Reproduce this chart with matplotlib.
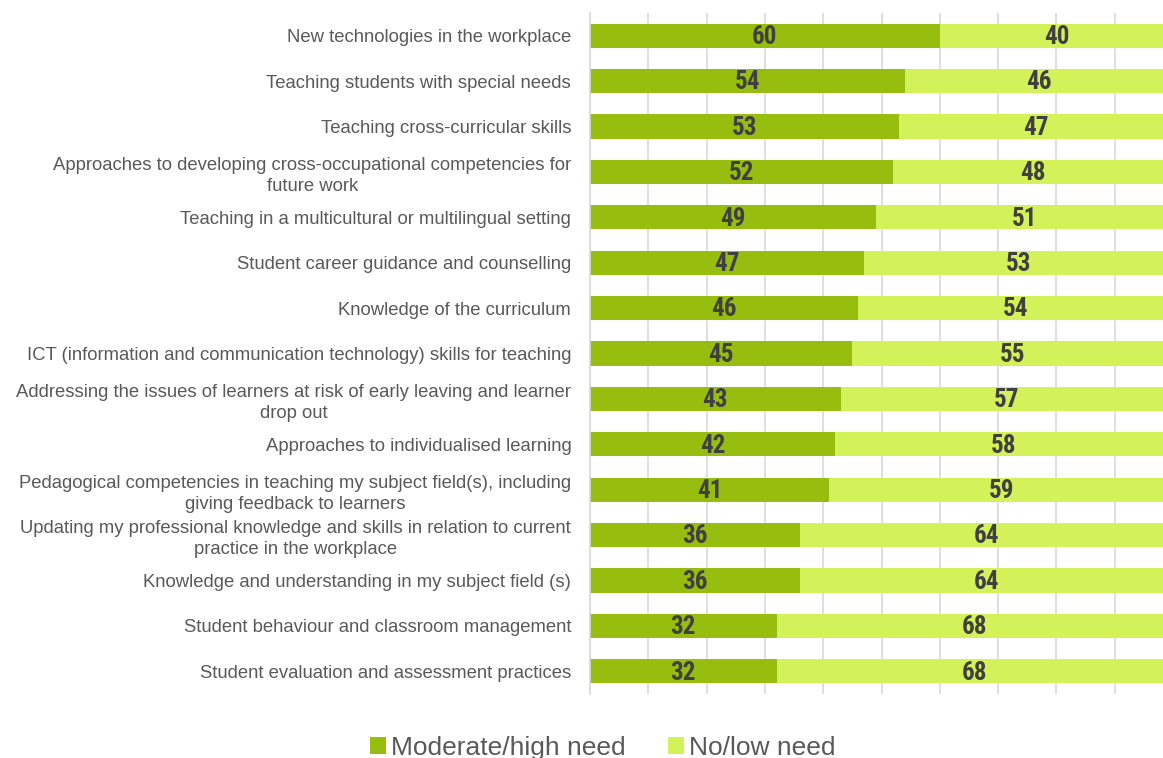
import matplotlib.pyplot as plt
import numpy as np

plt.rcParams['font.family'] = ['Liberation Sans', 'DejaVu Sans']

# Training need areas, top to bottom
areas = [
    'New technologies in the workplace',
    'Teaching students with special needs',
    'Teaching cross-curricular skills',
    'Approaches to developing cross-occupational competencies for\nfuture work',
    'Teaching in a multicultural or multilingual setting',
    'Student career guidance and counselling',
    'Knowledge of the curriculum',
    'ICT (information and communication technology) skills for teaching',
    'Addressing the issues of learners at risk of early leaving and learner\ndrop out',
    'Approaches to individualised learning',
    'Pedagogical competencies in teaching my subject field(s), including\ngiving feedback to learners',
    'Updating my professional knowledge and skills in relation to current\npractice in the workplace',
    'Knowledge and understanding in my subject field (s)',
    'Student behaviour and classroom management',
    'Student evaluation and assessment practices',
]
high_need = [60, 54, 53, 52, 49, 47, 46, 45, 43, 42, 41, 36, 36, 32, 32]
low_need = [40, 46, 47, 48, 51, 53, 54, 55, 57, 58, 59, 64, 64, 68, 68]

dark_green = '#97bd0f'
light_green = '#d3f25a'

fig = plt.figure(figsize=(11.63, 7.58), dpi=100)
ax = fig.add_axes([590 / 1163, 1 - 694 / 758, 583 / 1163, 681 / 758])

y = np.arange(len(areas))
bars1 = ax.barh(y, high_need, height=0.53, color=dark_green, label='Moderate/high need', zorder=2)
bars2 = ax.barh(y, low_need, left=high_need, height=0.53, color=light_green, label='No/low need', zorder=2)

# value labels centred in each segment
for vals, lefts in [(high_need, [0] * len(high_need)), (low_need, high_need)]:
    for yi, v, l in zip(y, vals, lefts):
        ax.text(l + v / 2, yi + 0.03, str(v), ha='center', va='center', fontsize=18,
                fontweight='bold', color='#404040', zorder=3,
                family=['Roboto Condensed', 'Roboto', 'DejaVu Sans'])

ax.set_xlim(0, 100)
ax.set_ylim(len(areas) - 0.5, -0.5)
ax.set_xticks(np.arange(0, 101, 10))
ax.xaxis.grid(True, color='#d9d9d9', linewidth=1.2, zorder=0)
ax.tick_params(axis='x', length=0, labelbottom=False)
ax.tick_params(axis='y', length=0, pad=13.5)
ax.set_yticks(y)
ax.set_yticklabels(areas, fontsize=13.3, color='#595959', multialignment='center',
                   linespacing=1.3)
for s in ['top', 'right', 'bottom']:
    ax.spines[s].set_visible(False)
ax.spines['left'].set_color('#d9d9d9')
ax.spines['left'].set_linewidth(1.2)

fig.legend(handles=[bars1, bars2], loc='lower center', bbox_to_anchor=(603 / 1163, -0.034),
           ncol=2, frameon=False, fontsize=19, handlelength=0.6, handleheight=0.6,
           handletextpad=0.2, columnspacing=1.6, labelcolor='#595959')

fig.savefig('out.png', dpi=100)
